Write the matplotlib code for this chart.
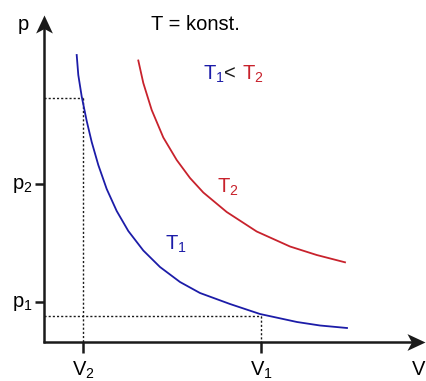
import matplotlib.pyplot as plt
from matplotlib.path import Path

plt.rcParams['font.family'] = ['Liberation Sans', 'DejaVu Sans']
plt.rcParams['mathtext.fontset'] = 'custom'
plt.rcParams['mathtext.rm'] = 'Liberation Sans'
plt.rcParams['mathtext.it'] = 'Liberation Sans'

# isotherm T1
V_T1 = [3.27, 3.43, 3.77, 4.27, 4.77, 5.43, 6.27, 7.27, 8.43, 9.93, 11.6, 13.6,
        15.6, 18.6, 21.6, 25.3, 27.6, 30.3]
p_T1 = [28.7, 26.7, 24.55, 22.1, 20.0, 17.7, 15.3, 13.1, 11.1, 9.15, 7.5, 6.0,
        4.9, 3.8, 2.8, 2.0, 1.65, 1.4]

# isotherm T2
V_T2 = [9.43, 9.93, 10.77, 11.93, 13.27, 14.6, 15.93, 18.27, 21.27, 24.6, 27.27, 30.1]
p_T2 = [28.15, 25.9, 23.2, 20.45, 18.2, 16.4, 14.95, 13.0, 11.05, 9.55, 8.7, 7.97]

# marked states
V2, p_a = 3.9, 24.4
V1, p_b = 21.7, 2.6
p_ticks = [15.8, 4.0]
p_tick_labels = [r'$\mathrm{p_2}$', r'$\mathrm{p_1}$']
V_ticks = [V2, V1]
V_tick_labels = [r'$\mathrm{V_2}$', r'$\mathrm{V_1}$']

blue = '#1c1ca8'
red = '#c8222c'
dark = '#1a1a1a'

fig = plt.figure(figsize=(4.26, 3.81), dpi=100)
ax = fig.add_axes([0, 0, 1, 1])
ax.set_xlim(-4.4, 38.2)
ax.set_ylim(-3.9, 34.2)
ax.axis('off')

# axes lines
ax.plot([0, 0], [-0.1, 31.7], color=dark, lw=1.8, solid_capstyle='butt')
ax.plot([-0.1, 37.1], [0, 0], color=dark, lw=1.8, solid_capstyle='butt')

# stealth arrow heads
head_up = Path([(0, 1), (-0.93, -1), (0, -0.5), (0.93, -1), (0, 1)],
               [Path.MOVETO, Path.LINETO, Path.LINETO, Path.LINETO, Path.CLOSEPOLY])
head_right = Path([(1, 0), (-1, 0.93), (-0.5, 0), (-1, -0.93), (1, 0)],
                  [Path.MOVETO, Path.LINETO, Path.LINETO, Path.LINETO, Path.CLOSEPOLY])
ax.plot([0], [31.8], marker=head_up, ms=13, color=dark, mew=0)
ax.plot([37.2], [0], marker=head_right, ms=13, color=dark, mew=0)

# ticks
for p in p_ticks:
    ax.plot([-0.9, 0], [p, p], color=dark, lw=1.8, solid_capstyle='butt')
for v in V_ticks:
    ax.plot([v, v], [0, -1.1], color=dark, lw=1.8, solid_capstyle='butt')

# dotted guides
dot = dict(color=dark, lw=1.0, linestyle=(0, (1.5, 1.5)))
ax.plot([0, V2], [p_a, p_a], **dot)
ax.plot([V2, V2], [p_a, 0], **dot)
ax.plot([0, V1], [p_b, p_b], **dot)
ax.plot([V1, V1], [p_b, 0], **dot)

# isotherms
ax.plot(V_T1, p_T1, color=blue, lw=1.3)
ax.plot(V_T2, p_T2, color=red, lw=1.3)

fs = 14.5
ax.text(-2.1, 31.2, 'p', fontsize=fs, ha='center', va='baseline')
ax.text(38.1, -1.8, 'V', fontsize=fs, ha='right', va='top')
for p, lab in zip(p_ticks, p_tick_labels):
    ax.text(-1.1, p - 0.5, lab, fontsize=fs, ha='right', va='baseline')
for v, lab in zip(V_ticks, V_tick_labels):
    ax.text(v, -1.8, lab, fontsize=fs, ha='center', va='top')

ax.text(15.1, 31.25, 'T = konst.', fontsize=fs, ha='center', va='baseline')
ax.text(15.9, 26.2, r'$\mathrm{T_1}$', fontsize=fs, color=blue, ha='left', va='baseline')
ax.text(18.0, 26.2, '<', fontsize=fs, color=dark, ha='left', va='baseline')
ax.text(19.8, 26.2, r'$\mathrm{T_2}$', fontsize=fs, color=red, ha='left', va='baseline')
ax.text(17.3, 14.9, r'$\mathrm{T_2}$', fontsize=fs, color=red, ha='left', va='baseline')
ax.text(12.1, 9.2, r'$\mathrm{T_1}$', fontsize=fs, color=blue, ha='left', va='baseline')

fig.savefig('out.png', dpi=100)
